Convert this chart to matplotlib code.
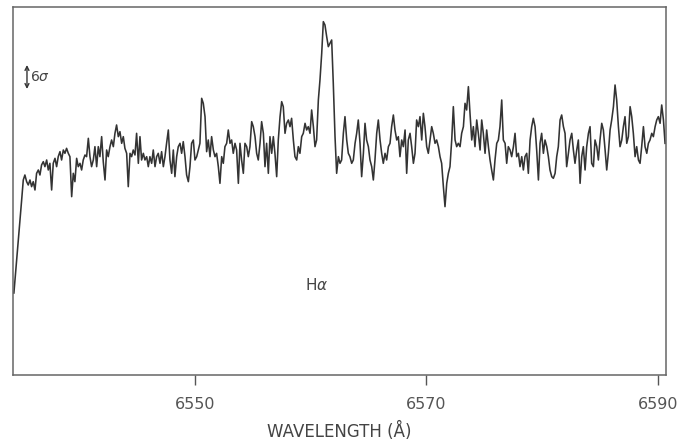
import matplotlib as mpl
mpl.use('Agg')
import matplotlib.pyplot as plt

# spectrum: wavelength (A) and relative flux (12 units = 1 sigma)
wavelength = [
    6534.36, 6534.74, 6535.03,
    6535.17, 6535.31, 6535.46, 6535.60, 6535.75, 6535.89, 6536.03, 6536.18, 6536.32, 6536.47,
    6536.61, 6536.75, 6536.90, 6537.04, 6537.19, 6537.33, 6537.47, 6537.62, 6537.76, 6537.91,
    6538.05, 6538.19, 6538.34, 6538.48, 6538.63, 6538.77, 6538.91, 6539.06, 6539.20, 6539.35,
    6539.49, 6539.63, 6539.78, 6539.92, 6540.07, 6540.21, 6540.35, 6540.50, 6540.64, 6540.79,
    6540.93, 6541.07, 6541.22, 6541.36, 6541.51, 6541.65, 6541.79, 6541.94, 6542.08, 6542.23,
    6542.37, 6542.51, 6542.66, 6542.80, 6542.95, 6543.09, 6543.23, 6543.38, 6543.52, 6543.67,
    6543.81, 6543.95, 6544.10, 6544.24, 6544.39, 6544.53, 6544.67, 6544.82, 6544.96, 6545.11,
    6545.25, 6545.39, 6545.54, 6545.68, 6545.83, 6545.97, 6546.11, 6546.26, 6546.40, 6546.55,
    6546.69, 6546.83, 6546.98, 6547.12, 6547.27, 6547.41, 6547.55, 6547.70, 6547.84, 6547.99,
    6548.13, 6548.27, 6548.42, 6548.56, 6548.71, 6548.85, 6548.99, 6549.14, 6549.28, 6549.43,
    6549.57, 6549.71, 6549.86, 6550.00, 6550.15, 6550.29, 6550.43, 6550.58, 6550.72, 6550.87,
    6551.01, 6551.15, 6551.30, 6551.44, 6551.59, 6551.73, 6551.87, 6552.02, 6552.16, 6552.31,
    6552.45, 6552.59, 6552.74, 6552.88, 6553.03, 6553.17, 6553.31, 6553.46, 6553.60, 6553.75,
    6553.89, 6554.03, 6554.18, 6554.32, 6554.47, 6554.61, 6554.75, 6554.90, 6555.04, 6555.19,
    6555.33, 6555.47, 6555.62, 6555.76, 6555.91, 6556.05, 6556.19, 6556.34, 6556.48, 6556.63,
    6556.77, 6556.91, 6557.06, 6557.20, 6557.35, 6557.49, 6557.63, 6557.78, 6557.92, 6558.07,
    6558.21, 6558.35, 6558.50, 6558.64, 6558.79, 6558.93, 6559.07, 6559.22, 6559.36, 6559.51,
    6559.65, 6559.79, 6559.94, 6560.08, 6560.23, 6560.37, 6560.51, 6560.66, 6560.80, 6560.95,
    6561.09, 6561.23, 6561.38, 6561.52, 6561.67, 6561.81, 6561.95, 6562.10, 6562.24, 6562.39,
    6562.53, 6562.67, 6562.82, 6562.96, 6563.11, 6563.25, 6563.39, 6563.54, 6563.68, 6563.83,
    6563.97, 6564.11, 6564.26, 6564.40, 6564.55, 6564.69, 6564.83, 6564.98, 6565.12, 6565.27,
    6565.41, 6565.55, 6565.70, 6565.84, 6565.99, 6566.13, 6566.27, 6566.42, 6566.56, 6566.71,
    6566.85, 6566.99, 6567.14, 6567.28, 6567.43, 6567.57, 6567.71, 6567.86, 6568.00, 6568.15,
    6568.29, 6568.43, 6568.58, 6568.72, 6568.87, 6569.01, 6569.15, 6569.30, 6569.44, 6569.59,
    6569.73, 6569.87, 6570.02, 6570.16, 6570.31, 6570.45, 6570.59, 6570.74, 6570.88, 6571.03,
    6571.17, 6571.31, 6571.46, 6571.60, 6571.75, 6571.89, 6572.03, 6572.18, 6572.32, 6572.47,
    6572.61, 6572.75, 6572.90, 6573.04, 6573.19, 6573.33, 6573.47, 6573.62, 6573.76, 6573.91,
    6574.05, 6574.19, 6574.34, 6574.48, 6574.63, 6574.77, 6574.91, 6575.06, 6575.20, 6575.35,
    6575.49, 6575.63, 6575.78, 6575.92, 6576.07, 6576.21, 6576.35, 6576.50, 6576.64, 6576.79,
    6576.93, 6577.07, 6577.22, 6577.36, 6577.51, 6577.65, 6577.79, 6577.94, 6578.08, 6578.23,
    6578.37, 6578.51, 6578.66, 6578.80, 6578.95, 6579.09, 6579.23, 6579.38, 6579.52, 6579.67,
    6579.81, 6579.95, 6580.10, 6580.24, 6580.39, 6580.53, 6580.67, 6580.82, 6580.96, 6581.11,
    6581.25, 6581.39, 6581.54, 6581.68, 6581.83, 6581.97, 6582.11, 6582.26, 6582.40, 6582.55,
    6582.69, 6582.83, 6582.98, 6583.12, 6583.27, 6583.41, 6583.55, 6583.70, 6583.84, 6583.99,
    6584.13, 6584.27, 6584.42, 6584.56, 6584.71, 6584.85, 6584.99, 6585.14, 6585.28, 6585.43,
    6585.57, 6585.71, 6585.86, 6586.00, 6586.15, 6586.29, 6586.43, 6586.58, 6586.72, 6586.87,
    6587.01, 6587.15, 6587.30, 6587.44, 6587.59, 6587.73, 6587.87, 6588.02, 6588.16, 6588.31,
    6588.45, 6588.59, 6588.74, 6588.88, 6589.03, 6589.17, 6589.31, 6589.46, 6589.60, 6589.75,
    6589.89, 6590.03, 6590.18, 6590.32, 6590.47, 6590.61,
]

flux = [
    246, 402, 525,
    585, 600, 580, 570, 585, 565, 580, 555, 605, 615,
    600, 630, 640, 625, 645, 615, 635, 555, 635, 650,
    625, 655, 670, 645, 675, 665, 680, 665, 655, 535,
    605, 580, 650, 625, 635, 615, 645, 660, 655, 710,
    655, 625, 645, 685, 625, 685, 655, 715, 640, 585,
    675, 655, 685, 705, 685, 725, 750, 715, 730, 695,
    715, 680, 665, 565, 665, 655, 675, 660, 725, 635,
    715, 645, 665, 645, 655, 625, 655, 635, 675, 625,
    655, 665, 635, 670, 625, 655, 695, 735, 645, 605,
    675, 595, 655, 685, 695, 665, 700, 655, 600, 580,
    625, 695, 705, 645, 655, 675, 695, 830, 815, 775,
    670, 705, 655, 715, 675, 655, 665, 625, 575, 655,
    635, 685, 695, 735, 695, 705, 665, 695, 675, 575,
    695, 645, 605, 695, 685, 655, 685, 760, 745, 715,
    665, 645, 695, 760, 725, 625, 695, 605, 715, 665,
    715, 665, 595, 705, 775, 820, 805, 725, 755, 765,
    745, 770, 705, 655, 645, 685, 665, 715, 725, 755,
    735, 745, 725, 795, 745, 685, 705, 825, 885, 965,
    1060, 1050, 1015, 985, 995, 1005, 875, 715, 605, 655,
    635, 645, 725, 775, 705, 665, 655, 635, 645, 695,
    725, 765, 695, 595, 665, 755, 705, 685, 645, 625,
    585, 645, 725, 765, 705, 665, 635, 665, 645, 685,
    695, 745, 780, 735, 705, 715, 655, 705, 685, 735,
    605, 705, 725, 685, 635, 665, 765, 745, 775, 705,
    785, 745, 685, 665, 705, 745, 725, 695, 705, 685,
    655, 635, 565, 505, 575, 605, 625, 705, 805, 705,
    685, 695, 685, 725, 745, 815, 795, 865, 785, 705,
    745, 685, 765, 725, 675, 765, 725, 665, 735, 685,
    645, 615, 585, 645, 695, 705, 745, 825, 705, 695,
    635, 685, 675, 655, 685, 725, 655, 665, 625, 655,
    615, 655, 665, 605, 705, 745, 770, 745, 675, 585,
    695, 725, 665, 705, 685, 655, 615, 595, 590, 605,
    655, 685, 765, 780, 745, 725, 625, 665, 705, 725,
    675, 635, 675, 705, 575, 655, 685, 615, 685, 725,
    745, 635, 625, 705, 685, 645, 705, 755, 735, 675,
    615, 665, 735, 765, 805, 870, 825, 745, 685, 705,
    745, 775, 695, 715, 805, 775, 725, 655, 685, 645,
    635, 685, 745, 685, 665, 695, 705, 725, 715, 745,
    765, 775, 755, 810, 765, 695,
]

sigma = 12  # flux units per sigma
xticks = [6550, 6570, 6590]

fig = plt.figure(figsize=(6.9, 4.42), dpi=100)
ax = fig.add_axes([0.0188, 0.1516, 0.9464, 0.8326])

ax.plot(wavelength, flux, color='#333333', lw=1.15)

ax.set_xlim(6534.28, 6590.69)
ax.set_ylim(0, 1104)
ax.set_yticks([])
ax.set_xticks(xticks)
ax.set_xticklabels([str(t) for t in xticks], fontsize=11.5, color='#555555')
ax.tick_params(axis='x', direction='out', length=7, width=1, color='#555555', pad=9)
for s in ax.spines.values():
    s.set_color('#666666')
    s.set_linewidth(1.1)

ax.set_xlabel('WAVELENGTH (Å)', fontsize=12, color='#444444', labelpad=7)

# 6 sigma scale bar
ax.annotate('', xy=(6535.49, 930), xytext=(6535.49, 930 - 6 * sigma),
            arrowprops=dict(arrowstyle='<->', color='#333333', lw=1, mutation_scale=7,
                            shrinkA=0, shrinkB=0))
ax.text(6535.75, 894, r'$6\sigma$', fontsize=10, color='#444444', va='center', ha='left')
ax.text(6560.54, 270, r'H$\alpha$', fontsize=11, color='#444444', va='center', ha='center')

fig.savefig('out.png', dpi=100, facecolor='white')
